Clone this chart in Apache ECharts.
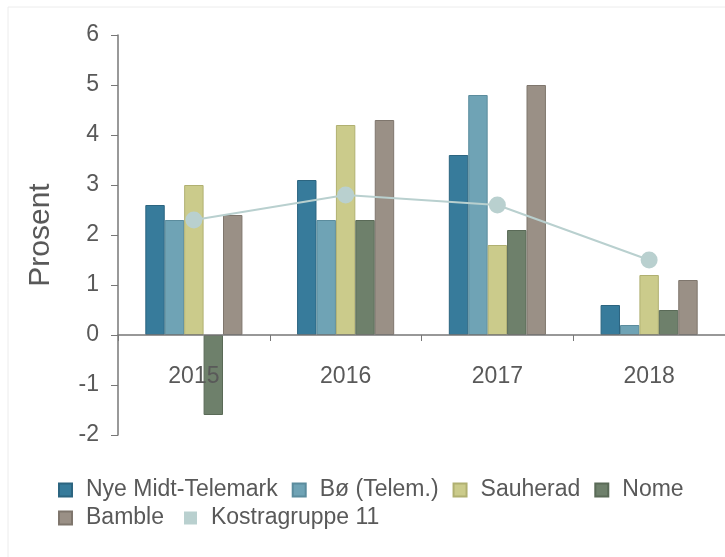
<!DOCTYPE html>
<html><head><meta charset="utf-8">
<script src="https://cdn.jsdelivr.net/npm/echarts@6/dist/echarts.min.js"></script>
<style>html,body{margin:0;padding:0;background:#fff}#c{width:725px;height:557px}</style>
</head><body><div id="c"></div>
<script>
const categories = ['2015', '2016', '2017', '2018'];
const nyeMidtTelemark = [2.6, 3.1, 3.6, 0.6];
const boTelem = [2.3, 2.3, 4.8, 0.2];
const sauherad = [3.0, 4.2, 1.8, 1.2];
const nome = [-1.6, 2.3, 2.1, 0.5];
const bamble = [2.4, 4.3, 5.0, 1.1];
const kostragruppe11 = [2.3, 2.8, 2.6, 1.5];
const yTicks = [-2, -1, 0, 1, 2, 3, 4, 5, 6];
const legendRow1 = ['Nye Midt-Telemark', 'Bø (Telem.)', 'Sauherad', 'Nome'];
const legendRow2 = ['Bamble', 'Kostragruppe 11'];

const font = 'Liberation Sans, Arial, sans-serif';
const textColor = '#595959';
const chart = echarts.init(document.getElementById('c'));
function bar(name, data, color, border) {
  return { name, type: 'bar', data, barGap: '0%', barCategoryGap: '36%',
    itemStyle: { color, borderColor: border, borderWidth: 1 } };
}
function legend(data, top, gap) {
  return {
    left: 53, top, itemWidth: 13, itemHeight: 13, itemGap: gap, icon: 'rect',
    textStyle: { fontFamily: font, fontSize: 23, color: textColor, lineHeight: 24, padding: [0, 0, 0, 9] },
    data
  };
}
chart.setOption({
  animation: false,
  backgroundColor: '#fff',
  graphic: [{ type: 'rect', shape: { x: 8, y: 7, width: 730, height: 560 },
    style: { fill: 'none', stroke: '#ececec', lineWidth: 1 }, silent: true }],
  grid: { left: 118, right: -1, top: 35, bottom: 122 },
  legend: [legend(legendRow1, 473, 14), legend(legendRow2, 501, 20)],
  xAxis: {
    type: 'category', data: categories, position: 'bottom', offset: -100, z: 5,
    axisLine: { onZero: false, lineStyle: { color: '#777', width: 1.5 } },
    axisTick: { show: true, length: 6, lineStyle: { color: '#777' } },
    axisLabel: { fontFamily: font, fontSize: 23, color: textColor, margin: 30 }
  },
  yAxis: {
    type: 'value', min: yTicks[0], max: yTicks[yTicks.length - 1], interval: 1,
    name: 'Prosent', nameLocation: 'middle', nameGap: 62, nameRotate: 90,
    nameTextStyle: { fontFamily: font, fontSize: 30, color: textColor },
    axisLine: { show: true, lineStyle: { color: '#777', width: 1.5 } },
    axisTick: { show: true, length: 7, lineStyle: { color: '#777' } },
    axisLabel: { fontFamily: font, fontSize: 23, color: textColor, margin: 19 },
    splitLine: { show: false }
  },
  series: [
    bar('Nye Midt-Telemark', nyeMidtTelemark, '#377b9b', '#2c6580'),
    bar('Bø (Telem.)', boTelem, '#6fa3b5', '#5b8c9d'),
    bar('Sauherad', sauherad, '#cbcb8b', '#b0b071'),
    bar('Nome', nome, '#6e806b', '#5a6a57'),
    bar('Bamble', bamble, '#9a9086', '#7f766d'),
    { name: 'Kostragruppe 11', type: 'line', data: kostragruppe11,
      symbol: 'circle', symbolSize: 17,
      itemStyle: { color: '#b9d0cf' }, lineStyle: { color: '#b9d0cf', width: 2 } }
  ]
});
</script></body></html>
